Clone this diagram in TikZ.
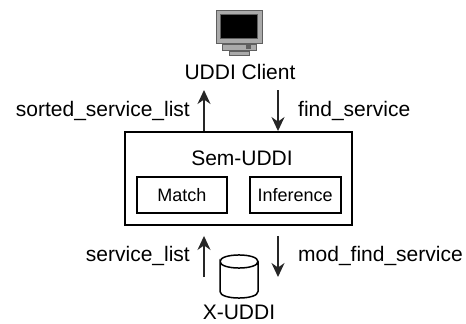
\documentclass[tikz,border=0pt]{standalone}
\usepackage{fontspec}
\setmainfont{Liberation Sans}
\usetikzlibrary{shapes.geometric,arrows.meta,positioning,calc}
\definecolor{bezelgray}{RGB}{170,170,170}
\definecolor{framegray}{RGB}{95,95,95}
\tikzset{
	box/.style={rectangle, draw, line width=1.7pt, minimum height=36pt},
	flow/.style={-{Stealth[length=14pt,width=13pt]}, line width=1.7pt, draw=black!85},
	biglabel/.style={font=\fontsize{21}{23}\selectfont},
	smalllabel/.style={font=\fontsize{18}{20}\selectfont},
	monitorpart/.style={rectangle, inner sep=0pt, fill=bezelgray, draw=framegray, line width=1pt},
}
\begin{document}
\begin{tikzpicture}[x=1pt,y=-1pt]
	\useasboundingbox (0,0) rectangle (466,324);
	% Sem-UDDI
	\node[rectangle, draw, line width=1.9pt, minimum width=227pt, minimum height=93pt] (sem) at (238.5,178.5) {};
	\node[box, smalllabel, minimum width=90pt] (match) at (182,195) {Match};
	\node[box, smalllabel, minimum width=91pt, right=21pt of match] (inf) {Inference};
	\node[biglabel] (semlabel) at (242,158) {Sem-UDDI};

	% Client
	\node[biglabel] (client) at (240,72) {UDDI Client};
	\node[monitorpart, minimum width=46pt, minimum height=33pt] (bezel) at (239,26.5) {};
	\node[rectangle, fill=black, draw=framegray, line width=1pt, inner sep=0pt, minimum width=37pt, minimum height=24pt] (screen) at (239,26.5) {};
	\node[monitorpart, minimum width=34pt, minimum height=6pt, below=0pt of bezel] (base) {};
	\node[rectangle, fill=framegray, inner sep=0pt, minimum width=5pt, minimum height=5pt] (drive) at (248,46) {};
	\node[monitorpart, minimum width=20pt, minimum height=4pt, below=0pt of base] (foot) {};

	% X-UDDI
	\draw[line width=1.5pt] (220,261.5) .. controls (220,252.8) and (258,252.8) .. (258,261.5)
		.. controls (258,270.2) and (220,270.2) .. (220,261.5) -- (220,291.5)
		.. controls (220,300.2) and (258,300.2) .. (258,291.5) -- (258,261.5);
	\node[biglabel] (xuddi) at (239,312.5) {X-UDDI};

	% Frecce
	\coordinate (uptop) at (204,90);
	\coordinate (downtop) at (278,90);
	\coordinate (upbot) at (204,277);
	\coordinate (downbot) at (278,277);
	\draw[flow] (uptop |- sem.north) -- node[biglabel, left=10pt] (sorted) {sorted\_service\_list} (uptop);
	\draw[flow] (downtop) -- node[biglabel, right=16pt] (find) {find\_service} (downtop |- sem.north);
	\draw[flow] (upbot) -- node[biglabel, left=10pt] (slist) {service\_list} ($(upbot |- sem.south)+(0,10)$);
	\draw[flow] ($(downbot |- sem.south)+(0,10)$) -- node[biglabel, right=16pt] (modfind) {mod\_find\_service} (downbot);
\end{tikzpicture}
\end{document}
